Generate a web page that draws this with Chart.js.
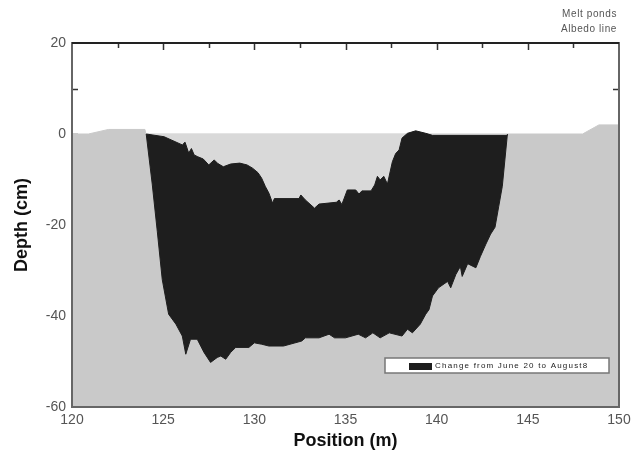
<!DOCTYPE html>
<html lang="en">
<head>
    <meta charset="UTF-8">
    <title>Melt pond depth profile</title>
    <script src="https://cdn.jsdelivr.net/npm/chart.js"></script>
    <style>
        body { margin: 0; background: #ffffff; }
        .canvas-container { width: 644px; height: 458px; }
    </style>
</head>
<body>
    <div class="canvas-container">
        <canvas id="profileChart"></canvas>
    </div>

    <script>
        // ice surface (top of grey ice)
        const surfacePos = [120, 120.9, 122, 124.0, 124.05, 148, 148.9, 150];
        const surfaceDepth = [0, 0, 1, 1, 0, 0, 2, 2];

        // June 20 profile (top of black area)
        const junePos = [124.07, 125.05, 126.05, 126.2, 126.4, 126.55, 126.7, 126.9, 127.2, 127.5,
            127.8, 128.0, 128.3, 128.7, 129.2, 129.6, 129.9, 130.2, 130.4, 130.6,
            130.8, 131.0, 131.1, 132.45, 132.55, 132.8, 133.3, 133.55, 134.5, 134.65,
            134.8, 135.1, 135.56, 135.74, 135.9, 136.4, 136.6, 136.75, 136.9, 137.1,
            137.3, 137.57, 137.75, 137.94, 138.1, 138.4, 138.85, 139.4, 139.77, 143.88];
        const juneDepth = [0, -0.6, -2.4, -1.8, -4.2, -3.2, -4.6, -5, -5.5, -6.8,
            -5.7, -6.5, -7.2, -6.6, -6.4, -6.8, -7.5, -8.5, -9.7, -11.5,
            -13, -15.2, -14.2, -14.2, -13.4, -14.5, -16.3, -15.4, -15, -14.5,
            -15.5, -12.3, -12.3, -13.2, -12.5, -12.5, -11.2, -9.3, -10.1, -9.3,
            -11, -6.1, -4.3, -3.5, -0.9, 0.15, 0.7, 0.15, -0.3, -0.3];

        // August profile (bottom of black area)
        const augPos = [124.07, 124.4, 124.68, 124.95, 125.3, 125.7, 126.05, 126.24, 126.5, 126.87,
            127.24, 127.6, 127.97, 128.16, 128.43, 128.7, 128.98, 129.7, 130.0, 130.4,
            130.8, 131.6, 132.6, 132.8, 133.55, 134.1, 134.4, 135.0, 135.7, 136.1,
            136.5, 136.9, 137.4, 138.1, 138.4, 138.67, 139.1, 139.4, 139.58, 139.77,
            140.1, 140.6, 140.77, 141.05, 141.3, 141.4, 141.7, 142.15, 142.4, 142.7,
            142.96, 143.2, 143.4, 143.6, 143.88];
        const augDepth = [0, -11, -21.5, -32, -39.6, -41.8, -44.4, -48.4, -45.1, -45.1,
            -48, -50.2, -49.1, -48.8, -49.5, -48, -46.9, -46.9, -45.9, -46.2,
            -46.6, -46.6, -45.5, -44.8, -44.8, -44, -44.8, -44.8, -44, -44.8,
            -43.7, -44.8, -43.7, -44.4, -42.9, -43.7, -41.8, -39.6, -38.6, -35.6,
            -33.8, -32.4, -33.8, -30.9, -29.1, -31.3, -28.5, -29.4, -26.9, -24.2,
            -22, -20.5, -16, -11.5, 0];

        const xTicks = [120, 125, 130, 135, 140, 145, 150];
        const yTicks = [20, 0, -20, -40, -60];
        const noteLines = ["Melt ponds", "Albedo line"];
        const legendLabel = "Change from June 20 to August8";

        const toPoints = (xs, ys) => xs.map((x, i) => ({ x: x, y: ys[i] }));

        const BLACK = "#1e1e1e";
        const POND = "#d9d9d9";
        const ICE = "#c9c9c9";

        // inner tick marks + frame, drawn before the fills so the grey hides the lower ones
        const frameTicks = {
            id: "frameTicks",
            beforeDatasetsDraw(chart) {
                const { ctx, chartArea: a, scales: { x, y } } = chart;
                ctx.save();
                ctx.strokeStyle = "#333";
                ctx.lineWidth = 1.5;
                ctx.beginPath();
                for (let v = 122.5; v < 150; v += 2.5) {
                    const px = Math.round(x.getPixelForValue(v)) + 0.5;
                    const len = (v % 5 === 0) ? 7 : 5;
                    ctx.moveTo(px, a.top);
                    ctx.lineTo(px, a.top + len);
                }
                for (let v = -50; v < 20; v += 10) {
                    const py = Math.round(y.getPixelForValue(v)) + 0.5;
                    ctx.moveTo(a.left, py);
                    ctx.lineTo(a.left + 6, py);
                    ctx.moveTo(a.right, py);
                    ctx.lineTo(a.right - 6, py);
                }
                ctx.stroke();
                ctx.restore();
            },
            afterDatasetsDraw(chart) {
                const { ctx, chartArea: a } = chart;
                ctx.save();
                ctx.lineWidth = 2;
                ctx.strokeStyle = "#666";
                ctx.strokeRect(a.left, a.top, a.right - a.left, a.bottom - a.top);
                ctx.strokeStyle = "#222";
                ctx.beginPath();
                ctx.moveTo(a.left, a.top);
                ctx.lineTo(a.right, a.top);
                ctx.stroke();
                ctx.restore();
            }
        };

        // boxed legend inside the plot + note text at the top right
        const boxLegend = {
            id: "boxLegend",
            afterDraw(chart) {
                const { ctx, chartArea: a } = chart;
                const ds = chart.data.datasets[0];
                const right = a.right - 10, bottom = a.bottom - 34;
                const left = right - 224, top = bottom - 15;
                ctx.save();
                ctx.fillStyle = "#ffffff";
                ctx.fillRect(left, top, right - left, bottom - top);
                ctx.strokeStyle = "#777";
                ctx.lineWidth = 1.5;
                ctx.strokeRect(left, top, right - left, bottom - top);
                ctx.fillStyle = ds.backgroundColor;
                ctx.fillRect(left + 24, top + 5, 23, 7);
                ctx.fillStyle = "#222";
                ctx.font = "8px Arial, 'Liberation Sans', sans-serif";
                ctx.letterSpacing = "1.2px";
                ctx.textBaseline = "middle";
                ctx.fillText(ds.label, left + 50, top + 8);

                ctx.fillStyle = "#555";
                ctx.font = "10px Arial, 'Liberation Sans', sans-serif";
                ctx.letterSpacing = "0.6px";
                ctx.textAlign = "right";
                noteLines.forEach((t, i) => ctx.fillText(t, a.right - 2, 14 + i * 15));
                ctx.restore();
            }
        };

        const ctx = document.getElementById("profileChart").getContext("2d");
        new Chart(ctx, {
            type: "line",
            data: {
                datasets: [
                    {
                        label: legendLabel,
                        data: toPoints(augPos, augDepth),
                        borderColor: BLACK,
                        backgroundColor: BLACK,
                        borderWidth: 1,
                        pointRadius: 0,
                        fill: 1
                    },
                    {
                        label: "June 20",
                        data: toPoints(junePos, juneDepth),
                        borderColor: BLACK,
                        backgroundColor: POND,
                        borderWidth: 1,
                        pointRadius: 0,
                        fill: { value: 0 }
                    },
                    {
                        label: "Surface",
                        data: toPoints(surfacePos, surfaceDepth),
                        borderColor: ICE,
                        backgroundColor: ICE,
                        borderWidth: 1,
                        pointRadius: 0,
                        fill: "start"
                    }
                ]
            },
            options: {
                responsive: true,
                maintainAspectRatio: false,
                animation: false,
                layout: { padding: { top: 43, right: 25, left: 0, bottom: 0 } },
                plugins: {
                    legend: { display: false },
                    tooltip: { enabled: false }
                },
                scales: {
                    x: {
                        type: "linear",
                        min: 120,
                        max: 150,
                        afterFit: s => { s.height = 51; },
                        afterBuildTicks: s => { s.ticks = xTicks.map(v => ({ value: v })); },
                        grid: { display: false, drawTicks: false, tickLength: 0 },
                        border: { display: false },
                        ticks: {
                            color: "#555",
                            font: { family: "Arial, 'Liberation Sans', sans-serif", size: 14 },
                            padding: 5,
                            maxRotation: 0,
                            autoSkip: false
                        },
                        title: {
                            display: true,
                            text: "Position (m)",
                            color: "#111",
                            font: { family: "Arial, 'Liberation Sans', sans-serif", size: 18, weight: "bold" },
                            padding: { top: 0, bottom: 6 }
                        }
                    },
                    y: {
                        min: -60,
                        max: 20,
                        afterFit: s => { s.width = 72; },
                        afterBuildTicks: s => { s.ticks = yTicks.map(v => ({ value: v })); },
                        grid: { display: false, drawTicks: false, tickLength: 0 },
                        border: { display: false },
                        ticks: {
                            color: "#555",
                            font: { family: "Arial, 'Liberation Sans', sans-serif", size: 14 },
                            padding: 6
                        },
                        title: {
                            display: true,
                            text: "Depth (cm)",
                            color: "#111",
                            font: { family: "Arial, 'Liberation Sans', sans-serif", size: 18, weight: "bold" },
                            padding: { top: 11, bottom: 0 }
                        }
                    }
                }
            },
            plugins: [frameTicks, boxLegend]
        });
    </script>
</body>
</html>
